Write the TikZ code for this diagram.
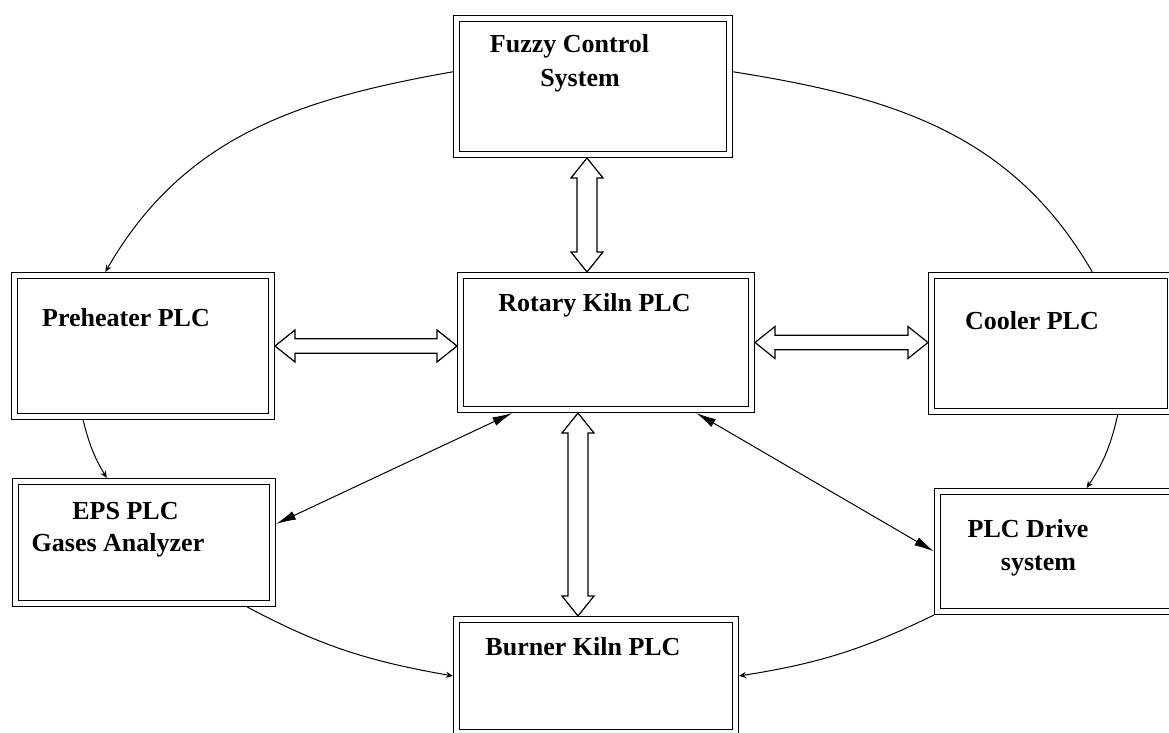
\documentclass[tikz,border=0pt]{standalone}
\usepackage{fontspec}
\setmainfont{Liberation Serif}
\usetikzlibrary{arrows.meta,calc}

\tikzset{
  box/.style={draw, double, double distance=2.4pt, line width=0.6pt, outer sep=1.8pt, inner sep=0pt},
  lbl/.style={font=\fontsize{13pt}{16pt}\selectfont\bfseries, anchor=base, inner sep=0pt},
  hollow/.style={line width=0.6pt, fill=white, line join=miter},
  link/.style={line width=0.5pt, {Latex[length=10pt,width=4.5pt]}-{Latex[length=10pt,width=4.5pt]}},
  ring/.style={line width=0.5pt, -{Stealth[length=3.5pt,width=3pt]}}
}

% hollow two-headed block arrow: #1 half shaft, #2 from, #3 to
\newcommand{\dblarrow}[3]{%
  \draw[hollow] let \p1=(#2), \p2=(#3),
      \n1={veclen(\x2-\x1,\y2-\y1)}, \n2={(\x2-\x1)/\n1}, \n3={(\y2-\y1)/\n1} in
    (\p1)
    -- ({\x1+10*\n2-8*\n3},{\y1+10*\n3+8*\n2})
    -- ({\x1+10*\n2-#1*\n3},{\y1+10*\n3+#1*\n2})
    -- ({\x1+(\n1-10)*\n2-#1*\n3},{\y1+(\n1-10)*\n3+#1*\n2})
    -- ({\x1+(\n1-10)*\n2-8*\n3},{\y1+(\n1-10)*\n3+8*\n2})
    -- (\p2)
    -- ({\x1+(\n1-10)*\n2+8*\n3},{\y1+(\n1-10)*\n3-8*\n2})
    -- ({\x1+(\n1-10)*\n2+#1*\n3},{\y1+(\n1-10)*\n3-#1*\n2})
    -- ({\x1+10*\n2+#1*\n3},{\y1+10*\n3-#1*\n2})
    -- ({\x1+10*\n2+8*\n3},{\y1+10*\n3-8*\n2})
    -- cycle;}

\begin{document}
\begin{tikzpicture}[x=0.5pt,y=0.5pt]
  \useasboundingbox (0,0) rectangle (1169,733);

  % boxes
  \node[box, minimum width=136.4pt, minimum height=67.9pt] (fuzzy) at (593,646.5) {};
  \node[box, minimum width=145.4pt, minimum height=66.9pt] (rotary) at (606,390.5) {};
  \node[box, minimum width=128.4pt, minimum height=70.4pt] (preheater) at (143,387) {};
  \node[box, minimum width=119.4pt, minimum height=67.9pt] (cooler) at (1051,389.5) {};
  \node[box, minimum width=128.4pt, minimum height=60.9pt] (eps) at (144,190.5) {};
  \node[box, minimum width=139.4pt, minimum height=56.4pt] (burner) at (596,57) {};
  \node[box, minimum width=119.4pt, minimum height=59.9pt] (drive) at (1057,181.5) {};

  % texts
  \node[lbl] (fuzzyA) at (569.5,680) {Fuzzy Control};
  \node[lbl] (fuzzyB) at (580,646) {System};
  \node[lbl] (rotaryT) at (594.5,421) {Rotary Kiln PLC};
  \node[lbl] (preheaterT) at (126,406) {Preheater PLC};
  \node[lbl] (coolerT) at (1032,403) {Cooler PLC};
  \node[lbl] (epsA) at (125.5,213) {EPS PLC};
  \node[lbl] (epsB) at (118,181) {Gases Analyzer};
  \node[lbl] (burnerT) at (583,77) {Burner Kiln PLC};
  \node[lbl] (driveA) at (1028,195) {PLC Drive};
  \node[lbl] (driveB) at (1038.5,162) {system};

  % outer ring
  \draw[ring] (fuzzy.174) to[out=190,in=60] (preheater.117);
  \draw[ring] (preheater.231) to[out=284,in=121] (eps.120);
  \draw[ring] (eps.328) to[out=332,in=170] (burner.west);
  \draw[ring] (drive.south west) to[out=206,in=9] (burner.east);
  \draw[ring] (cooler.313) to[out=257,in=56] (drive.65);
  \draw[line width=0.5pt] (fuzzy.6) to[out=351,in=120] (cooler.60);

  % links
  \draw[link] (rotary.217) -- (eps.8);
  \draw[link] (rotary.322) -- (drive.west);

  \coordinate (fr) at ($(fuzzy.south)+(-6,0)$);
  \coordinate (rb) at ($(rotary.south)+(-28,0)$);
  \dblarrow{5}{fr}{rotary.north -| fr}
  \dblarrow{3.6}{preheater.east}{rotary.west |- preheater.east}
  \dblarrow{3.6}{rotary.east}{cooler.west |- rotary.east}
  \dblarrow{5}{rb}{burner.north -| rb}
\end{tikzpicture}
\end{document}
